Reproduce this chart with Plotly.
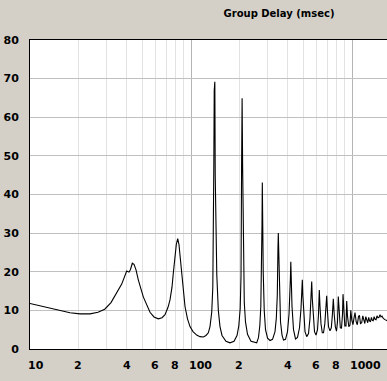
import math
import plotly.graph_objects as go

# Frequency (Hz) and group delay (msec)
freq_hz = [
    10, 11.54, 13.31, 15.58, 17.72, 20.44, 23.59, 26.45, 29.11, 31.85,
    34.71, 37.12, 39.86, 41.20, 42.09, 43.19, 44.26, 45.55, 47.06, 50.55,
    55.64, 58.92, 62.66, 66.06, 68.96, 71.98, 74.06, 76.21, 77.64, 79.54,
    81.03, 82.68, 84.24, 85.81, 87.55, 89.58, 91.78, 95.12, 98.58, 102.9,
    108.5, 113.7, 119.3, 123.9, 128.1, 131.2, 134.5, 136.6, 138.0, 138.6,
    139.4, 140.6, 141.4, 143.0, 144.6, 147.8, 151.4, 155.8, 165.0, 174.7,
    185.0, 193.1, 198.1, 202.1, 204.5, 206.2, 207.7, 209.2, 211.3, 214.3,
    218.0, 224.4, 235.9, 246.3, 255.9, 262.6, 267.5, 271.4, 274.5, 276.1,
    277.3, 278.5, 280.9, 285.0, 290.3, 298.8, 309.6, 320.9, 332.5, 338.8,
    343.6, 346.7, 348.6, 350.6, 354.2, 359.8, 367.6, 375.5, 386.4, 397.6,
    406.2, 412.0, 414.4, 416.8, 419.2, 424.0, 433.2, 445.8, 458.7, 472.0,
    482.3, 487.9, 491.4, 494.9, 502.0, 510.7, 523.2, 536.9, 548.5, 556.4,
    562.0, 566.8, 575.0, 585.0, 597.6, 610.6, 619.3, 626.5, 632.8, 642.0,
    653.9, 665.3, 677.8, 687.5, 696.4, 703.4, 714.5, 730.1, 743.7, 754.4,
    765.4, 775.2, 787.6, 801.2, 812.7, 822.1, 832.8, 846.0, 860.7, 873.1,
    879.4, 889.5, 902.3, 917.8, 927.1, 937.6, 955.3, 971.8, 982.9, 997.2,
    1014, 1029, 1044, 1062, 1079, 1098, 1113, 1129, 1149, 1167,
    1184, 1201, 1218, 1236, 1252, 1270, 1286, 1303, 1320, 1337,
    1354, 1372, 1390, 1410, 1430, 1451, 1472, 1493, 1514, 1536,
    1565, 1603, 1642, 1673,
]
delay_ms = [
    11.8, 11.2, 10.6, 9.9, 9.4, 9.1, 9.1, 9.5, 10.3, 12.0,
    14.6, 16.8, 20.2, 19.9, 20.6, 22.2, 21.9, 20.5, 17.9, 13.5,
    9.5, 8.3, 7.8, 8.1, 8.9, 10.8, 12.7, 16.0, 19.6, 24.0,
    27.0, 28.6, 27.0, 23.5, 19.6, 15.0, 11.0, 7.8, 5.8, 4.5,
    3.6, 3.2, 3.1, 3.5, 4.2, 5.8, 9.5, 16.0, 30.0, 47.6,
    66.9, 69.2, 45.0, 30.0, 19.2, 10.0, 5.8, 3.5, 2.0, 1.6,
    2.0, 3.5, 6.0, 10.5, 19.0, 47.6, 64.9, 47.6, 25.0, 12.0,
    7.0, 3.8, 2.0, 1.7, 1.6, 3.0, 6.0, 11.0, 20.0, 32.3,
    43.1, 32.3, 20.0, 10.0, 5.0, 2.8, 2.2, 2.5, 4.5, 8.0,
    14.0, 25.6, 30.0, 25.6, 14.0, 7.0, 3.6, 2.3, 2.5, 4.5,
    9.0, 14.0, 18.3, 22.6, 18.3, 11.0, 5.0, 2.6, 3.0, 5.5,
    10.5, 15.0, 17.9, 14.0, 8.0, 4.5, 3.2, 4.0, 8.0, 13.0,
    17.5, 13.0, 7.5, 4.5, 3.6, 5.0, 9.0, 15.3, 11.0, 6.5,
    4.2, 4.2, 6.5, 10.0, 13.8, 10.0, 5.8, 4.7, 5.5, 8.5,
    13.0, 9.0, 5.8, 4.6, 7.0, 13.6, 9.0, 5.5, 5.4, 9.0,
    14.2, 10.0, 6.0, 6.0, 12.4, 8.5, 5.8, 6.2, 10.0, 7.5,
    6.3, 8.0, 9.4, 7.0, 6.3, 8.5, 8.6, 6.6, 6.8, 8.6,
    7.0, 6.6, 8.4, 7.2, 6.8, 8.2, 7.2, 7.1, 8.2, 7.4,
    7.3, 8.4, 7.7, 7.6, 8.6, 8.1, 8.2, 8.9, 8.3, 8.5,
    7.9, 7.6, 7.3, 7.2,
]

x_label_vals = [10, 20, 40, 60, 80, 100, 200, 400, 600, 800, 1000]
x_label_text = ["10", "2", "4", "6", "8", "100", "2", "4", "6", "8", "1000"]
x_decades = [10, 100, 1000]
x_minor = [20, 30, 40, 50, 60, 70, 80, 90, 200, 300, 400, 500, 600, 700, 800, 900]
y_ticks = [0, 10, 20, 30, 40, 50, 60, 70, 80]
title_text = "Group Delay (msec)"

FONT = "DejaVu Sans"
BG = "#d4d0c8"

fig = go.Figure()
fig.add_trace(go.Scatter(x=freq_hz, y=delay_ms, mode="lines",
                         line=dict(color="black", width=1.1),
                         hoverinfo="skip", showlegend=False))

annotations = []
for v, t in zip(x_label_vals, x_label_text):
    multi = len(t) > 1
    annotations.append(dict(
        x=math.log10(v), xref="x", y=0, yref="paper",
        text="<b>%s</b>" % t, showarrow=False,
        xanchor="left" if multi else "center",
        xshift=-4 if multi else 0,
        yanchor="top", yshift=-8,
        font=dict(family=FONT, size=11, color="black"),
    ))

fig.update_layout(
    width=387, height=381,
    margin=dict(l=30, r=0, t=40, b=32, autoexpand=False),
    paper_bgcolor=BG, plot_bgcolor="white",
    showlegend=False,
    title=dict(text="<b>%s</b>" % title_text, x=279 / 387, y=1 - 13 / 381,
               xanchor="center", yanchor="middle",
               font=dict(family=FONT, size=10, color="black")),
    annotations=annotations,
    xaxis=dict(type="log", range=[1, 1 + 357 / 161], automargin=False,
               tickvals=x_decades, showticklabels=False, ticks="",
               showgrid=True, gridcolor="#b4b4b4", gridwidth=1,
               minor=dict(tickvals=x_minor, showgrid=True, gridcolor="#e2e2e2", ticks=""),
               showline=True, linecolor="black", linewidth=1, mirror=True,
               zeroline=False, fixedrange=True),
    yaxis=dict(range=[0, 80], tickvals=y_ticks, automargin=False,
               ticktext=["<b>%d</b>" % v for v in y_ticks],
               tickfont=dict(family=FONT, size=11, color="black"),
               ticks="", ticklabelstandoff=8,
               showgrid=True, gridcolor="#c0c0c0", gridwidth=1,
               showline=True, linecolor="black", linewidth=1, mirror=False,
               zeroline=False, fixedrange=True),
)

fig.write_html(
    "out.html",
    config={"displayModeBar": False},
    post_script="document.body.style.margin='0';document.body.style.background='%s';" % BG,
)
